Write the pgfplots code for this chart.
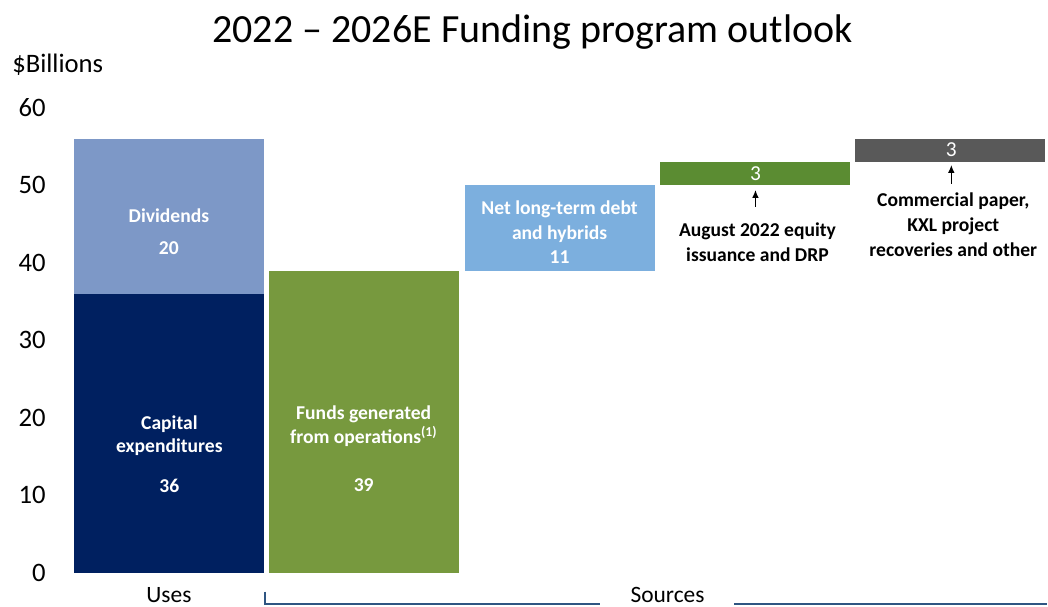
\documentclass[border=0pt]{standalone}
\usepackage{fontspec}
\setmainfont{Carlito}
\usepackage{pgfplots}
\pgfplotsset{compat=1.18}
\usetikzlibrary{arrows.meta}
\definecolor{navy}{RGB}{0,32,96}
\definecolor{steel}{RGB}{125,152,199}
\definecolor{olive}{RGB}{119,153,62}
\definecolor{lblue}{RGB}{124,175,222}
\definecolor{eqgreen}{RGB}{91,140,50}
\definecolor{dgray}{RGB}{89,89,89}
\definecolor{brk}{RGB}{47,85,130}
\begin{document}
\begin{tikzpicture}
\begin{axis}[
  at={(53.4375pt,-429.75pt)}, anchor=south west,
  scale only axis, width=733.125pt, height=348.75pt,
  xmin=-0.5, xmax=4.5, ymin=0, ymax=60,
  ybar stacked, bar width=0.972,
  axis line style={draw=none},
  xtick=\empty,
  ytick={0,10,20,30,40,50,60},
  major tick length=0pt,
  tick style={draw=none},
  /pgf/number format/assume math mode=true,
  yticklabel style={font=\fontsize{20}{24}\selectfont, anchor=east, inner sep=0pt, xshift=-18.9pt},
  clip=false,
]
\addplot[fill=none, draw=none] coordinates {(0,0) (1,0) (2,39) (3,50) (4,53)};
\addplot[fill=navy, draw=none] coordinates {(0,36) (1,0) (2,0) (3,0) (4,0)};
\addplot[fill=steel, draw=none] coordinates {(0,20) (1,0) (2,0) (3,0) (4,0)};
\addplot[fill=olive, draw=none] coordinates {(0,0) (1,39) (2,0) (3,0) (4,0)};
\addplot[fill=lblue, draw=none] coordinates {(0,0) (1,0) (2,11) (3,0) (4,0)};
\addplot[fill=eqgreen, draw=none] coordinates {(0,0) (1,0) (2,0) (3,3) (4,0)};
\addplot[fill=dgray, draw=none] coordinates {(0,0) (1,0) (2,0) (3,0) (4,3)};
\end{axis}
\begin{scope}[x=0.75pt,y=-0.75pt]
\path[use as bounding box] (0,0) rectangle (1048,607);
\tikzset{lab/.style={font=\fontsize{14.7}{17.6}\selectfont\bfseries, text=white, anchor=base, inner sep=0pt},
         ann/.style={font=\fontsize{14.7}{17.6}\selectfont\bfseries, text=black, anchor=base, inner sep=0pt},
         arr/.style={-{Latex[length=6pt,width=5pt]}, line width=1.1pt}}
\node[anchor=base, inner sep=0pt, font=\fontsize{30}{36}\selectfont] at (533,43) {2022 -- 2026E Funding program outlook};
\node[anchor=base west, inner sep=0pt, font=\fontsize{20}{24}\selectfont] at (12,73) {\$Billions};
% Uses bar
\node[lab] at (169,223) {Dividends};
\node[lab] at (169,255) {20};
\node[lab] at (169.5,430) {Capital};
\node[lab] at (169.5,453) {expenditures};
\node[lab] at (169.5,493) {36};
% FFO
\node[lab] at (364,420) {Funds generated};
\node[lab] at (364,444) {from operations\textsuperscript{(1)}};
\node[lab] at (364,492) {39};
% debt
\node[lab] at (560,215) {Net long-term debt};
\node[lab] at (560,240) {and hybrids};
\node[lab] at (560,264) {11};
% equity
\node[lab, font=\fontsize{16}{19}\selectfont] at (756,181) {3};
\draw[arr] (756,207) -- (756,190);
\node[ann] at (758,237) {August 2022 equity};
\node[ann] at (758,262) {issuance and DRP};
% other
\node[lab, font=\fontsize{16}{19}\selectfont] at (952,157) {3};
\draw[arr] (952,184) -- (952,165);
\node[ann] at (954,207) {Commercial paper,};
\node[ann] at (954,232) {KXL project};
\node[ann] at (954,257) {recoveries and other};
% bottom labels
\node[anchor=base, inner sep=0pt, font=\fontsize{17.6}{21}\selectfont] at (169,603) {Uses};
\node[anchor=base, inner sep=0pt, font=\fontsize{17.6}{21}\selectfont] at (668,603) {Sources};
\draw[brk, line width=1.5pt] (265,592) -- (265,604) -- (600,604);
\draw[brk, line width=1.5pt] (735,604) -- (1048,604);
\end{scope}
\end{tikzpicture}
\end{document}
